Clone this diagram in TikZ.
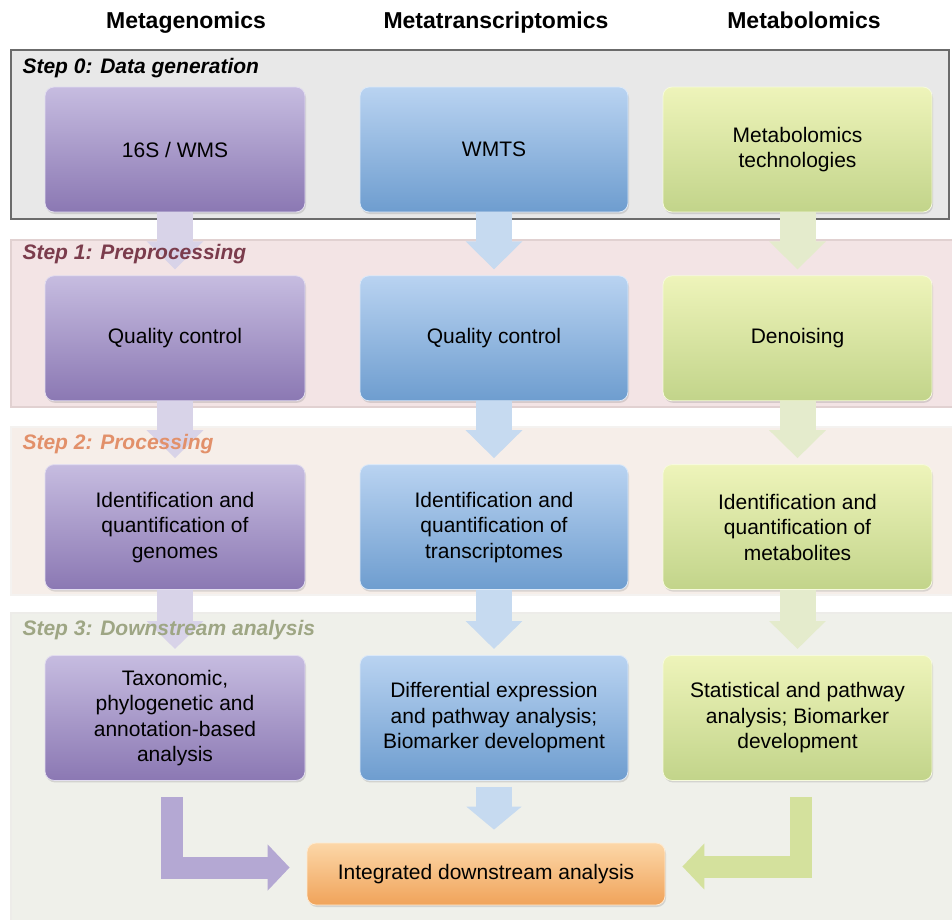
\documentclass[tikz,border=0pt]{standalone}
\usepackage{fontspec}
\setmainfont{Liberation Sans}
\usepackage{xcolor}
\usetikzlibrary{positioning,arrows.meta,shadows,backgrounds}
\definecolor{genTop}{HTML}{C6BCE0}
\definecolor{genBot}{HTML}{8B78B3}
\definecolor{traTop}{HTML}{B9D3F1}
\definecolor{traBot}{HTML}{6E9DCF}
\definecolor{metTop}{HTML}{EEF4BA}
\definecolor{metBot}{HTML}{C2D48A}
\definecolor{intTop}{HTML}{FCD7A8}
\definecolor{intBot}{HTML}{F0A35A}
\definecolor{genArr}{HTML}{D8D3E8}
\definecolor{traArr}{HTML}{C6DAF0}
\definecolor{metArr}{HTML}{E4EBCC}
\definecolor{stepOne}{HTML}{7B3C4C}
\definecolor{stepTwo}{HTML}{E2906A}
\definecolor{stepThree}{HTML}{9EA684}
\definecolor{bandZero}{HTML}{E8E8E8}
\definecolor{bandOne}{HTML}{F3E4E5}
\definecolor{bandTwo}{HTML}{F6EEE9}
\definecolor{bandThree}{HTML}{EFF0EA}

\begin{document}
\begin{tikzpicture}[x=1pt,y=-1pt,node distance=63pt,
	box/.style={rectangle,rounded corners=9pt,minimum height=125pt,align=center,text=black,line width=0.8pt,
		font=\fontsize{21}{25.5}\selectfont,drop shadow={opacity=0.25,shadow xshift=1pt,shadow yshift=-2pt}},
	genbox/.style={box,minimum width=260pt,top color=genTop,bottom color=genBot,draw=genTop!50!white},
	trabox/.style={box,minimum width=268pt,top color=traTop,bottom color=traBot,draw=traTop!50!white},
	metbox/.style={box,minimum width=269pt,top color=metTop,bottom color=metBot,draw=metTop!50!white},
	down/.style={line width=36pt,-{Triangle[width=55pt,length=28pt]},shorten >=6pt},
	bent/.style={line width=22pt,-{Triangle[width=45pt,length=22pt]},shorten >=17pt},
	head/.style={anchor=base,font=\fontsize{23}{26}\selectfont\bfseries},
	steplabel/.style={anchor=west,font=\fontsize{21}{25}\selectfont\bfseries\itshape}]
			\useasboundingbox (0,0) rectangle (952,919);

			\node[head] (hGen) at (186,28) {Metagenomics};
			\node[head] (hTra) at (496,28) {Metatranscriptomics};
			\node[head] (hMet) at (804,28) {Metabolomics};

			\node[genbox] (g0) at (175,149.5) {16S / WMS};
			\node[genbox] (g1) [below=of g0] {Quality control};
			\node[genbox] (g2) [below=of g1] {Identification and\\quantification of\\genomes};
			\node[genbox] (g3) [below=65pt of g2] {Taxonomic,\\phylogenetic and\\annotation-based\\analysis};

			\node[trabox] (t0) at (494,149.5) {WMTS};
			\node[trabox] (t1) [below=of t0] {Quality control};
			\node[trabox] (t2) [below=of t1] {Identification and\\quantification of\\transcriptomes};
			\node[trabox] (t3) [below=65pt of t2] {Differential expression\\and pathway analysis;\\Biomarker development};

			\node[metbox] (m0) at (797.5,149.5) {Metabolomics\\technologies};
			\node[metbox] (m1) [below=of m0] {Denoising};
			\node[metbox] (m2) [below=of m1] {Identification and\\quantification of\\metabolites};
			\node[metbox] (m3) [below=65pt of m2] {Statistical and pathway\\analysis; Biomarker\\development};

			\node[box,minimum width=358pt,minimum height=62pt,top color=intTop,bottom color=intBot,draw=intTop!50!white] (integ) at (486,874) {Integrated downstream analysis};

			\begin{scope}[on background layer]
				\draw[fill=bandZero,draw=black!58,line width=1.5pt] (11,50) rectangle (949,219);
				\draw[fill=bandOne,draw=red!35!black!18,line width=1.5pt] (11,240) rectangle (956,407);
				\draw[fill=bandTwo,draw=orange!30!black!6,line width=1.5pt] (11,427) rectangle (956,595);
				\draw[fill=bandThree,draw=olive!15!black!9,line width=1.5pt] (11,613) rectangle (956,925);
			\end{scope}

			\draw[down,genArr] (g0) -- (g1);
			\draw[down,genArr] (g1) -- (g2);
			\draw[down,genArr] (g2) -- (g3);
			\draw[down,traArr] (t0) -- (t1);
			\draw[down,traArr] (t1) -- (t2);
			\draw[down,traArr] (t2) -- (t3);
			\draw[down,metArr] (m0) -- (m1);
			\draw[down,metArr] (m1) -- (m2);
			\draw[down,metArr] (m2) -- (m3);
			\draw[down,traArr,shorten <=6pt,shorten >=13pt,-{Triangle[width=54pt,length=23pt]}] (t3.south) -- (t3.south |- integ.north);

			\coordinate (lbend) at (171.5,797);
			\coordinate (rbend) at (801,797);
			\draw[bent,genTop!70!genBot] (lbend) |- ([yshift=6.5pt]integ.west);
			\draw[bent,metTop!40!metBot] (rbend) |- ([yshift=7.5pt]integ.east);

			\node[steplabel] (s0) at (19,68) {Step 0: Data generation};
			\node[steplabel,text=stepOne] (s1) at (19,254) {Step 1: Preprocessing};
			\node[steplabel,text=stepTwo] (s2) at (19,444) {Step 2: Processing};
			\node[steplabel,text=stepThree] (s3) at (19,630) {Step 3: Downstream analysis};
\end{tikzpicture}
\end{document}
